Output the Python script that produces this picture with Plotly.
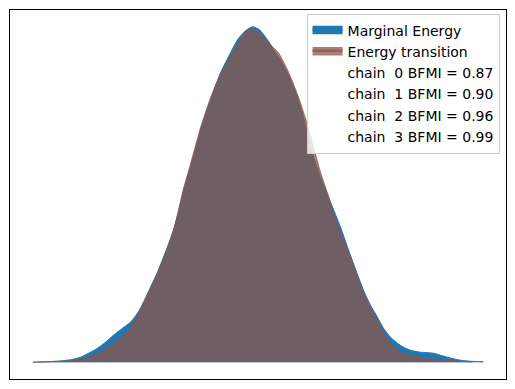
import plotly.graph_objects as go

# Marginal energy KDE (centered energy, density)
marginal_x = [-4.40, -4.24, -4.04, -3.84, -3.64, -3.44, -3.24, -3.10, -2.94, -2.78, -2.60, -2.44,
              -2.30, -2.18, -2.04, -1.90, -1.78, -1.68, -1.58, -1.48, -1.38, -1.24, -1.04, -0.84,
              -0.64, -0.44, -0.30, -0.14, 0.00, 0.14, 0.30, 0.44, 0.56, 0.70, 0.82, 0.92, 1.02,
              1.16, 1.36, 1.56, 1.76, 1.90, 2.06, 2.22, 2.36, 2.50, 2.62, 2.76, 2.90, 3.02, 3.16,
              3.36, 3.62, 3.76, 3.90, 4.06, 4.16, 4.36, 4.62]
marginal_d = [0.0000, 0.0003, 0.0007, 0.0013, 0.0025, 0.0050, 0.0100, 0.0140, 0.0200, 0.0270,
              0.0340, 0.0400, 0.0490, 0.0600, 0.0750, 0.0900, 0.1050, 0.1180, 0.1320, 0.1500,
              0.1720, 0.1950, 0.2320, 0.2620, 0.2890, 0.3090, 0.3220, 0.3310, 0.3350, 0.3320,
              0.3220, 0.3110, 0.3020, 0.2890, 0.2750, 0.2620, 0.2450, 0.2150, 0.1850, 0.1600,
              0.1350, 0.1150, 0.0930, 0.0720, 0.0570, 0.0450, 0.0340, 0.0250, 0.0190, 0.0150,
              0.0120, 0.0100, 0.0090, 0.0070, 0.0050, 0.0030, 0.0020, 0.0010, 0.0005]

# Energy transition KDE
transition_x = [-4.38, -4.04, -3.64, -3.44, -3.24, -3.10, -2.94, -2.78, -2.60, -2.44, -2.30, -2.18,
                -2.04, -1.90, -1.78, -1.58, -1.38, -1.24, -1.04, -0.84, -0.64, -0.44, -0.30, -0.18,
                -0.06, 0.08, 0.26, 0.40, 0.52, 0.70, 0.82, 0.96, 1.10, 1.22, 1.36, 1.50, 1.62, 1.76,
                1.90, 2.06, 2.22, 2.36, 2.50, 2.62, 2.76, 2.90, 3.02, 3.16, 3.36, 3.62, 3.90, 4.16,
                4.40]
transition_d = [0.0002, 0.0006, 0.0015, 0.0030, 0.0060, 0.0090, 0.0130, 0.0190, 0.0260, 0.0350,
                0.0470, 0.0590, 0.0740, 0.0890, 0.1040, 0.1320, 0.1730, 0.1980, 0.2340, 0.2640,
                0.2880, 0.3060, 0.3180, 0.3280, 0.3330, 0.3310, 0.3220, 0.3150, 0.3090, 0.2920,
                0.2780, 0.2590, 0.2370, 0.2150, 0.1900, 0.1690, 0.1500, 0.1300, 0.1130, 0.0920,
                0.0700, 0.0550, 0.0420, 0.0300, 0.0190, 0.0130, 0.0090, 0.0070, 0.0050, 0.0030,
                0.0020, 0.0010, 0.0003]

chains = [0, 1, 2, 3]
bfmi = [0.87, 0.90, 0.96, 0.99]

BLUE = "#1f77b4"
BROWN_A = "rgba(140,86,75,0.75)"

fig = go.Figure()
fig.add_trace(go.Scatter(x=marginal_x, y=marginal_d, mode="lines", fill="tozeroy",
                         line=dict(color=BLUE, width=1, shape="spline", smoothing=0.6),
                         fillcolor=BLUE, name="Marginal Energy"))
fig.add_trace(go.Scatter(x=transition_x, y=transition_d, mode="lines", fill="tozeroy",
                         line=dict(color=BROWN_A, width=1, shape="spline", smoothing=0.6),
                         fillcolor=BROWN_A, name="Energy transition"))
for c, b in zip(chains, bfmi):
    fig.add_trace(go.Scatter(x=[None], y=[None], mode="lines",
                             line=dict(color="rgba(0,0,0,0)", width=0),
                             name=f"chain \u00a0{c} BFMI = {b:.2f}"))

allx = marginal_x + transition_x
xmin, xmax = min(allx), max(allx)
xpad = 0.05 * (xmax - xmin)
ymax = max(marginal_d + transition_d)
ypad = 0.05 * ymax

fig.update_layout(
    width=507, height=381,
    margin=dict(l=2, r=9, t=2, b=10),
    paper_bgcolor="white", plot_bgcolor="white",
    font=dict(family="DejaVu Sans", size=14, color="black"),
    showlegend=True,
    legend=dict(x=0.987, y=0.990, xanchor="right", yanchor="top",
                bgcolor="rgba(255,255,255,0.8)", bordercolor="#cccccc", borderwidth=1,
                font=dict(size=14), tracegroupgap=0, itemsizing="constant"),
    xaxis=dict(range=[xmin - xpad, xmax + xpad], showticklabels=False, ticks="",
               showgrid=False, zeroline=False, showline=True, linecolor="black",
               linewidth=1, mirror=True),
    yaxis=dict(range=[-ypad, ymax + ypad], showticklabels=False, ticks="",
               showgrid=False, zeroline=False, showline=True, linecolor="black",
               linewidth=1, mirror=True),
)

fig.write_html("out.html")
